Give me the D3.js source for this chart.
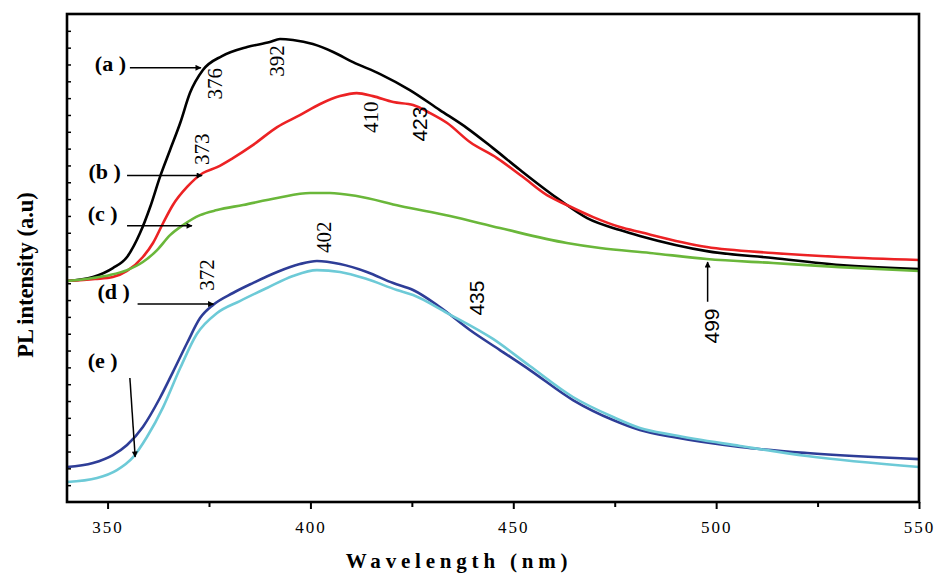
<!DOCTYPE html>
<html>
<head>
<meta charset="utf-8">
<script src="https://cdn.jsdelivr.net/npm/d3@7"></script>
<style>
  html, body { margin: 0; padding: 0; background: #fff; }
  svg { display: block; }
</style>
</head>
<body>
<svg id="chart" width="935" height="573"></svg>
<script>
// ---- Data (wavelength nm, PL intensity a.u.) ----
const seriesA = [[340.0,13.13],[346.4,13.37],[351.3,13.90],[354.8,14.56],[358.0,15.98],[360.5,17.53],[362.9,19.31],[365.4,20.92],[367.9,22.52],[370.3,24.30],[373.5,25.67],[378.2,26.50],[384.4,27.04],[390.0,27.33],[392.5,27.51],[395.7,27.45],[400.6,27.21],[405.6,26.74],[410.5,26.14],[417.2,25.43],[424.5,24.48],[431.9,23.29],[438.6,22.22],[445.0,21.03],[451.7,19.73],[460.8,18.06],[468.2,16.87],[476.3,16.16],[481.2,15.81],[497.7,14.91],[514.0,14.50],[530.5,14.08],[550.0,13.84]];
const seriesB = [[340.0,13.13],[346.9,13.25],[351.3,13.37],[354.8,13.73],[358.7,14.56],[361.2,15.39],[363.7,16.58],[366.1,17.65],[369.6,18.72],[373.5,19.55],[377.0,19.90],[380.9,20.44],[385.8,21.21],[391.8,22.28],[397.4,22.99],[402.4,23.65],[407.3,24.12],[411.4,24.30],[415.4,24.12],[420.4,23.77],[425.3,23.59],[429.5,23.11],[433.7,22.52],[439.3,21.39],[446.0,20.44],[452.4,19.31],[458.3,18.24],[463.2,17.65],[469.7,16.93],[476.3,16.34],[481.2,16.04],[497.7,15.15],[514.0,14.80],[530.5,14.56],[550.0,14.38]];
const seriesC = [[340.0,13.13],[346.4,13.31],[350.6,13.49],[354.8,13.78],[358.7,14.26],[362.2,14.97],[365.4,15.86],[368.6,16.46],[372.8,17.05],[377.0,17.35],[383.4,17.65],[391.8,18.06],[399.9,18.36],[404.8,18.36],[411.4,18.18],[422.1,17.59],[434.4,16.99],[446.7,16.28],[463.2,15.39],[471.4,15.09],[483.7,14.80],[497.7,14.44],[514.0,14.20],[530.5,13.96],[550.0,13.73]];
const seriesD = [[340.0,2.08],[346.4,2.32],[351.3,2.79],[354.8,3.39],[358.7,4.46],[362.9,6.18],[366.1,7.72],[369.6,9.45],[372.8,10.93],[376.0,11.71],[380.9,12.42],[385.8,13.01],[391.8,13.67],[397.4,14.14],[401.6,14.32],[407.3,14.14],[413.9,13.67],[420.4,13.01],[425.3,12.60],[431.9,11.59],[439.3,10.22],[446.7,9.03],[454.1,7.84],[464.7,6.06],[474.6,4.87],[481.2,4.28],[489.4,3.86],[505.9,3.27],[522.4,2.91],[550.0,2.55]];
const seriesE = [[340.0,1.19],[347.4,1.43],[352.3,1.90],[356.3,2.67],[359.7,3.86],[363.7,5.64],[367.9,7.96],[372.0,9.98],[377.0,11.23],[382.6,11.94],[389.3,12.72],[395.7,13.43],[401.6,13.78],[407.3,13.67],[413.9,13.25],[421.3,12.60],[425.3,12.30],[433.7,11.23],[445.0,9.69],[454.1,8.08],[464.7,6.24],[474.6,5.05],[481.2,4.40],[489.4,3.98],[505.9,3.33],[522.4,2.73],[550.0,2.08]];

const seriesColors = ["#000000", "#ec2224", "#6ab73a", "#2e3d97", "#6dcad7"];
const xTickValues = [350, 400, 450, 500, 550];
const xMinorTicks = [375, 425, 475, 525];
const yTickValues = d3.range(1, 29);

// peak annotations: [wavelength, intensity, label, font]
const peakLabels = [
  [376.3, 24.85, "376", "serif"],
  [391.6, 26.21, "392", "serif"],
  [373.2, 20.97, "373", "serif"],
  [414.8, 22.87, "410", "serif"],
  [427.0, 22.46, "423", "sans"],
  [374.4, 13.49, "372", "serif"],
  [403.3, 15.74, "402", "serif"],
  [441.0, 12.12, "435", "sans"],
  [499.0, 10.46, "499", "sans"]
];
// curve letter labels: [label, textX(nm), textY, arrowFrom(nm,y), arrowTo(nm,y)]
const curveLabels = [
  ["(a )", 350.7, 25.6, [355.5, 25.8], [373.0, 25.8]],
  ["(b )", 349.3, 19.2, [354.8, 19.4], [373.3, 19.4]],
  ["(c )", 348.8, 16.7, [354.8, 16.41], [370.8, 16.41]],
  ["(d )", 351.5, 12.05, [357.4, 11.76], [376.1, 11.76]],
  ["(e )", 348.8, 7.95, [355.5, 7.37], [356.8, 2.68]]
];
const arrow499 = [[497.9, 11.9], [497.9, 14.26]];

// ---- Layout ----
const svg = d3.select("#chart");
const mLeft = 67, mRight = 919, mTop = 14, mBottom = 502;
const x = d3.scaleLinear().domain([340, 550]).range([mLeft, mRight]);
const y = d3.scaleLinear().domain([0, 29]).range([mBottom, mTop]);

svg.append("defs").append("marker")
  .attr("id", "arrow").attr("viewBox", "0 0 10 10")
  .attr("refX", 9).attr("refY", 5)
  .attr("markerWidth", 9).attr("markerHeight", 6)
  .attr("markerUnits", "userSpaceOnUse")
  .attr("orient", "auto")
  .append("path").attr("d", "M0,0 L10,5 L0,10 Z").attr("fill", "#000");

// curves
const line = d3.line().x(d => x(d[0])).y(d => y(d[1])).curve(d3.curveMonotoneX);
[seriesA, seriesB, seriesC, seriesD, seriesE].forEach((s, i) => {
  svg.append("path").datum(s).attr("d", line)
    .attr("fill", "none").attr("stroke", seriesColors[i])
    .attr("stroke-width", 2.6).attr("stroke-linejoin", "round");
});

// frame
svg.append("rect").attr("x", mLeft).attr("y", mTop)
  .attr("width", mRight - mLeft).attr("height", mBottom - mTop)
  .attr("fill", "none").attr("stroke", "#000").attr("stroke-width", 2.6);

// x axis
const xAxis = d3.axisBottom(x).tickValues(xTickValues).tickSize(7).tickFormat(d3.format("d"));
const gx = svg.append("g").attr("transform", `translate(0,${mBottom})`).call(xAxis);
gx.select(".domain").remove();
gx.selectAll(".tick line").attr("stroke-width", 2);
gx.selectAll(".tick text")
  .attr("dy", "1.25em")
  .style("font-family", "'Liberation Serif', 'DejaVu Serif', serif")
  .style("font-size", "17px").style("letter-spacing", "2px");
const gxm = svg.append("g").attr("transform", `translate(0,${mBottom})`)
  .call(d3.axisBottom(x).tickValues(xMinorTicks).tickSize(5).tickFormat(""));
gxm.select(".domain").remove();
gxm.selectAll(".tick line").attr("stroke-width", 2);

// y axis (inward ticks, no labels)
const gy = svg.append("g").attr("transform", `translate(${mLeft},0)`)
  .call(d3.axisRight(y).tickValues(yTickValues).tickSize(4).tickFormat(""));
gy.select(".domain").remove();
gy.selectAll(".tick line").attr("stroke-width", 1.5);

// axis titles
svg.append("text").attr("x", 459).attr("y", 568)
  .attr("text-anchor", "middle")
  .style("font-family", "'Liberation Serif', 'DejaVu Serif', serif")
  .style("font-weight", "bold").style("font-size", "21px")
  .style("letter-spacing", "4.8px")
  .text("Wavelength (nm)");
svg.append("text")
  .attr("transform", "translate(33,275) rotate(-90)")
  .attr("text-anchor", "middle")
  .style("font-family", "'Liberation Serif', 'DejaVu Serif', serif")
  .style("font-weight", "bold").style("font-size", "22.5px")
  .text("PL intensity (a.u)");

// curve letter labels with arrows
curveLabels.forEach(c => {
  svg.append("text").attr("x", x(c[1])).attr("y", y(c[2]))
    .attr("text-anchor", "middle")
    .style("font-family", "'Liberation Serif', 'DejaVu Serif', serif")
    .style("font-weight", "bold").style("font-size", "22px")
    .text(c[0]);
  svg.append("line")
    .attr("x1", x(c[3][0])).attr("y1", y(c[3][1]))
    .attr("x2", x(c[4][0])).attr("y2", y(c[4][1]))
    .attr("stroke", "#000").attr("stroke-width", 1.5)
    .attr("marker-end", "url(#arrow)");
});

// 499 arrow
svg.append("line")
  .attr("x1", x(arrow499[0][0])).attr("y1", y(arrow499[0][1]))
  .attr("x2", x(arrow499[1][0])).attr("y2", y(arrow499[1][1]))
  .attr("stroke", "#000").attr("stroke-width", 1.5)
  .attr("marker-end", "url(#arrow)");

// rotated peak labels
peakLabels.forEach(p => {
  svg.append("text")
    .attr("transform", `translate(${x(p[0])},${y(p[1])}) rotate(-90)`)
    .attr("text-anchor", "middle").attr("dy", "0.35em")
    .style("font-family", p[3] === "sans" ? "'Liberation Sans', Arial, sans-serif" : "'Liberation Serif', 'DejaVu Serif', serif")
    .style("font-size", "21px")
    .text(p[2]);
});
</script>
</body>
</html>
